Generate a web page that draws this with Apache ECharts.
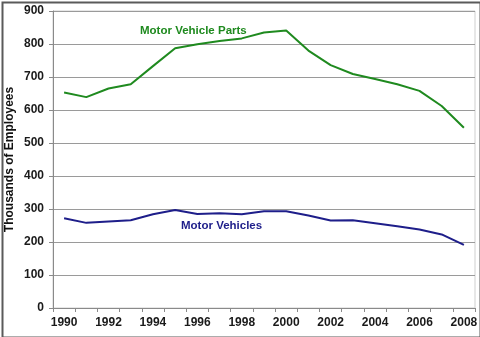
<!DOCTYPE html>
<html>
<head>
<meta charset="utf-8">
<script src="https://cdn.jsdelivr.net/npm/echarts@6/dist/echarts.min.js"></script>
<style>
  html, body { margin: 0; padding: 0; background: #fff; }
  #chart { width: 480px; height: 337px; }
</style>
</head>
<body>
<div id="chart"></div>
<script>
// Employment in the U.S. auto industry, thousands of employees
const years = ['1990','1991','1992','1993','1994','1995','1996','1997','1998','1999',
               '2000','2001','2002','2003','2004','2005','2006','2007','2008'];
const motorVehicleParts = [653, 639, 665, 678, 733, 787, 799, 809, 817, 835,
                           841, 780, 736, 709, 694, 678, 658, 612, 546];
const motorVehicles = [272, 258, 262, 266, 284, 297, 285, 287, 284, 293,
                       293, 280, 265, 266, 257, 248, 238, 223, 191];
const yTicks = { min: 0, max: 900, step: 100 };

const font = 'Liberation Sans, Arial, sans-serif';
const green = '#1f8a1f';
const navy = '#1e1e8a';

const chart = echarts.init(document.getElementById('chart'), null, { renderer: 'canvas' });
chart.setOption({
  animation: false,
  backgroundColor: '#fff',
  grid: {
    left: 53, right: 5, top: 11, bottom: 29,
    outerBoundsMode: 'none', containLabel: false,
    show: true, borderColor: '#cfcfcf', borderWidth: 1
  },
  xAxis: {
    type: 'category',
    data: years,
    boundaryGap: true,
    axisLine: { lineStyle: { color: '#8a8a8a', width: 1 } },
    axisTick: { show: true, interval: 0, length: 4, lineStyle: { color: '#8a8a8a' } },
    axisLabel: { interval: 1, color: '#1a1a1a', fontFamily: font, fontWeight: 'bold', fontSize: 12, margin: 9 },
    splitLine: { show: false }
  },
  yAxis: {
    type: 'value',
    min: yTicks.min, max: yTicks.max, interval: yTicks.step,
    name: 'Thousands of Employees',
    nameLocation: 'middle',
    nameMoveOverlap: false,
    nameGap: 37,
    nameTextStyle: { color: '#111', fontFamily: font, fontWeight: 'bold', fontSize: 12 },
    axisLine: { show: true, lineStyle: { color: '#8a8a8a', width: 1 } },
    axisTick: { show: true, length: 4, lineStyle: { color: '#8a8a8a' } },
    axisLabel: { color: '#1a1a1a', fontFamily: font, fontWeight: 'bold', fontSize: 12, margin: 9 },
    splitLine: { show: true, lineStyle: { color: '#9a9a9a', width: 1 } }
  },
  series: [
    {
      name: 'Motor Vehicle Parts', type: 'line', data: motorVehicleParts,
      symbol: 'none', lineStyle: { color: green, width: 2 }
    },
    {
      name: 'Motor Vehicles', type: 'line', data: motorVehicles,
      symbol: 'none', lineStyle: { color: navy, width: 2 }
    }
  ],
  graphic: [
    {
      type: 'rect', left: 0, top: 0, z: 100, silent: true,
      shape: { x: 1, y: 1, width: 478, height: 335 },
      style: { fill: 'none', stroke: '#5a5a5a', lineWidth: 2 }
    },
    {
      type: 'text', left: 140, top: 25,
      style: { text: 'Motor Vehicle Parts', fill: green, font: 'bold 11.5px ' + font }
    },
    {
      type: 'text', left: 181, top: 220,
      style: { text: 'Motor Vehicles', fill: navy, font: 'bold 11.5px ' + font }
    }
  ]
});
</script>
</body>
</html>
